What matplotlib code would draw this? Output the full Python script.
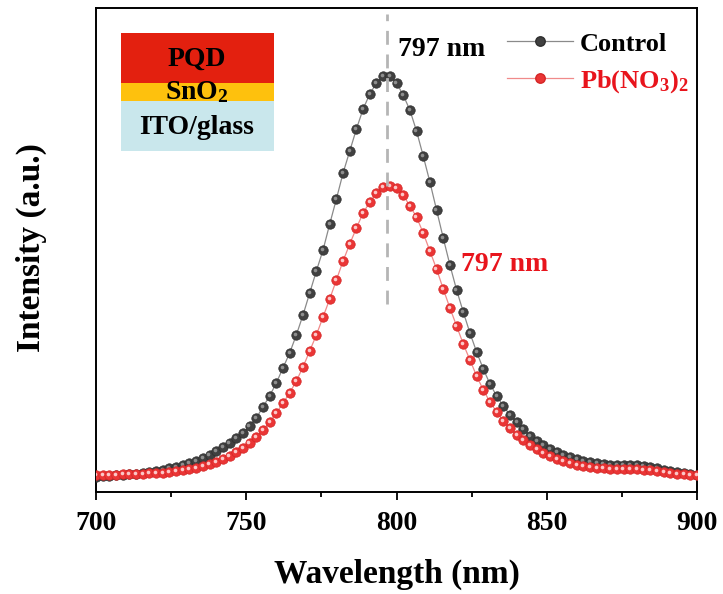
import numpy as np
import matplotlib.pyplot as plt
from matplotlib.transforms import offset_copy

plt.rcParams['font.family'] = ['Liberation Serif', 'DejaVu Serif']
plt.rcParams['font.weight'] = 'bold'
plt.rcParams['axes.labelweight'] = 'bold'
plt.rcParams['mathtext.fontset'] = 'custom'
plt.rcParams['mathtext.rm'] = 'Liberation Serif:bold'
plt.rcParams['mathtext.it'] = 'Liberation Serif:bold'
plt.rcParams['mathtext.bf'] = 'Liberation Serif:bold'

# wavelength grid (nm), 91 points between 700 and 900
wavelength = np.linspace(700, 900, 91)

# PL intensity (a.u.)
control = [15, 16, 16, 17, 17, 18, 18, 19, 20, 21,
           22, 24, 25, 27, 29, 31, 34, 37, 41, 45,
           49, 54, 59, 66, 74, 85, 96, 109, 124, 139,
           157, 177, 199, 221, 242, 268, 293, 319, 341, 363,
           383, 398, 409, 416, 416, 409, 397, 382, 361, 336,
           310, 282, 254, 227, 202, 180, 159, 140, 123, 108,
           96, 86, 77, 70, 63, 56, 51, 47, 43, 40,
           37, 35, 33, 31, 30, 29, 28, 27, 27, 27,
           27, 27, 26, 25, 24, 22, 21, 20, 19, 18, 17]
pbno3 = [17, 17, 17, 17, 18, 18, 18, 18, 19, 19,
         19, 20, 21, 22, 23, 24, 26, 28, 30, 33,
         36, 40, 44, 49, 55, 62, 70, 79, 89, 99,
         111, 125, 141, 157, 175, 193, 212, 231, 248, 264,
         279, 290, 299, 305, 306, 304, 297, 286, 275, 259,
         241, 223, 203, 184, 166, 148, 132, 116, 102, 90,
         80, 71, 64, 57, 52, 47, 43, 39, 36, 33,
         31, 29, 27, 26, 25, 24, 24, 23, 23, 23,
         23, 23, 22, 22, 21, 20, 19, 18, 18, 17, 17]

labels = ['Control', r'Pb(NO$_3$)$_2$']
peak_label = '797 nm'
peak_pos = 797
layers = ['PQD', r'SnO$_2$', 'ITO/glass']
layer_colors = ['#e3200f', '#fec10d', '#c9e7ec']

fig = plt.figure(figsize=(7.23, 5.94), dpi=100)
ax = fig.add_axes([96 / 723, 1 - 492 / 594, 601 / 723, 484 / 594])

hl = offset_copy(ax.transData, fig=fig, x=-0.8, y=0.8, units='points')
ms = 6.8

ax.plot(wavelength, control, '-', color='#8a8a8a', lw=0.9, zorder=2)
ax.plot(wavelength, control, 'o', ms=ms, mfc='#404040', mec='#2e2e2e', mew=0.5, zorder=3)
ax.plot(wavelength, control, 'o', ms=2.6, mfc='#8e8e8e', mec='none', zorder=4, transform=hl)

ax.plot(wavelength, pbno3, '-', color='#f08a8a', lw=0.9, zorder=5)
ax.plot(wavelength, pbno3, 'o', ms=ms, mfc='#ea3535', mec='#d42525', mew=0.5, zorder=6)
ax.plot(wavelength, pbno3, 'o', ms=2.6, mfc='#fbc8c8', mec='none', zorder=7, transform=hl)

# legend handles
h1, = ax.plot([], [], '-o', color='#8a8a8a', lw=0.9, ms=ms, mfc='#404040', mec='#2e2e2e')
h2, = ax.plot([], [], '-o', color='#f08a8a', lw=0.9, ms=ms, mfc='#ea3535', mec='#d42525')
leg = ax.legend([h1, h2], labels, loc='upper left', bbox_to_anchor=(0.684, 0.95),
                frameon=False, fontsize=19, handlelength=2.5, handletextpad=0.25,
                labelspacing=0.47, borderpad=0, borderaxespad=0)
leg.get_texts()[1].set_color('#e8141c')

ax.plot([peak_pos, peak_pos], [188, 478], ls=(0, (5, 3.5)), color='#b5b5b5', lw=2, zorder=8)
ax.text(0.502, 0.915, peak_label, transform=ax.transAxes, fontsize=20, color='black',
        ha='left', va='center')
ax.text(0.608, 0.47, peak_label, transform=ax.transAxes, fontsize=20, color='#e8141c',
        ha='left', va='center')

# layer schematic
bounds = [(33, 83), (83, 101), (101, 151)]
for (top, bot), c in zip(bounds, layer_colors):
    y0 = 1 - (bot - 8) / 484
    h = (bot - top) / 484
    ax.add_patch(plt.Rectangle(((121 - 96) / 601, y0), 153 / 601, h, transform=ax.transAxes,
                               facecolor=c, edgecolor='none', zorder=1))
ax.text((197 - 96) / 601, 1 - (59 - 8) / 484, layers[0], transform=ax.transAxes,
        fontsize=20, ha='center', va='center', zorder=2)
ax.text((197 - 96) / 601, 1 - (92 - 8) / 484, layers[1], transform=ax.transAxes,
        fontsize=20, ha='center', va='center', zorder=2)
ax.text((197 - 96) / 601, 1 - (127 - 8) / 484, layers[2], transform=ax.transAxes,
        fontsize=20, ha='center', va='center', zorder=2)

ax.set_xlim(700, 900)
ax.set_ylim(0, 484)
ax.set_xticks([700, 750, 800, 850, 900])
ax.set_xticks([725, 775, 825, 875], minor=True)
ax.set_yticks([])
ax.tick_params(axis='x', which='major', direction='out', length=6, width=1.3, pad=8, labelsize=20)
ax.tick_params(axis='x', which='minor', direction='out', length=3.5, width=1.3)
for s in ax.spines.values():
    s.set_linewidth(1.4)

ax.set_xlabel('Wavelength (nm)', fontsize=24, labelpad=16)
ax.text(-0.107, 0.505, 'Intensity (a.u.)', transform=ax.transAxes, rotation=90,
        fontsize=24, ha='center', va='center')

fig.savefig('out.png', dpi=100)
